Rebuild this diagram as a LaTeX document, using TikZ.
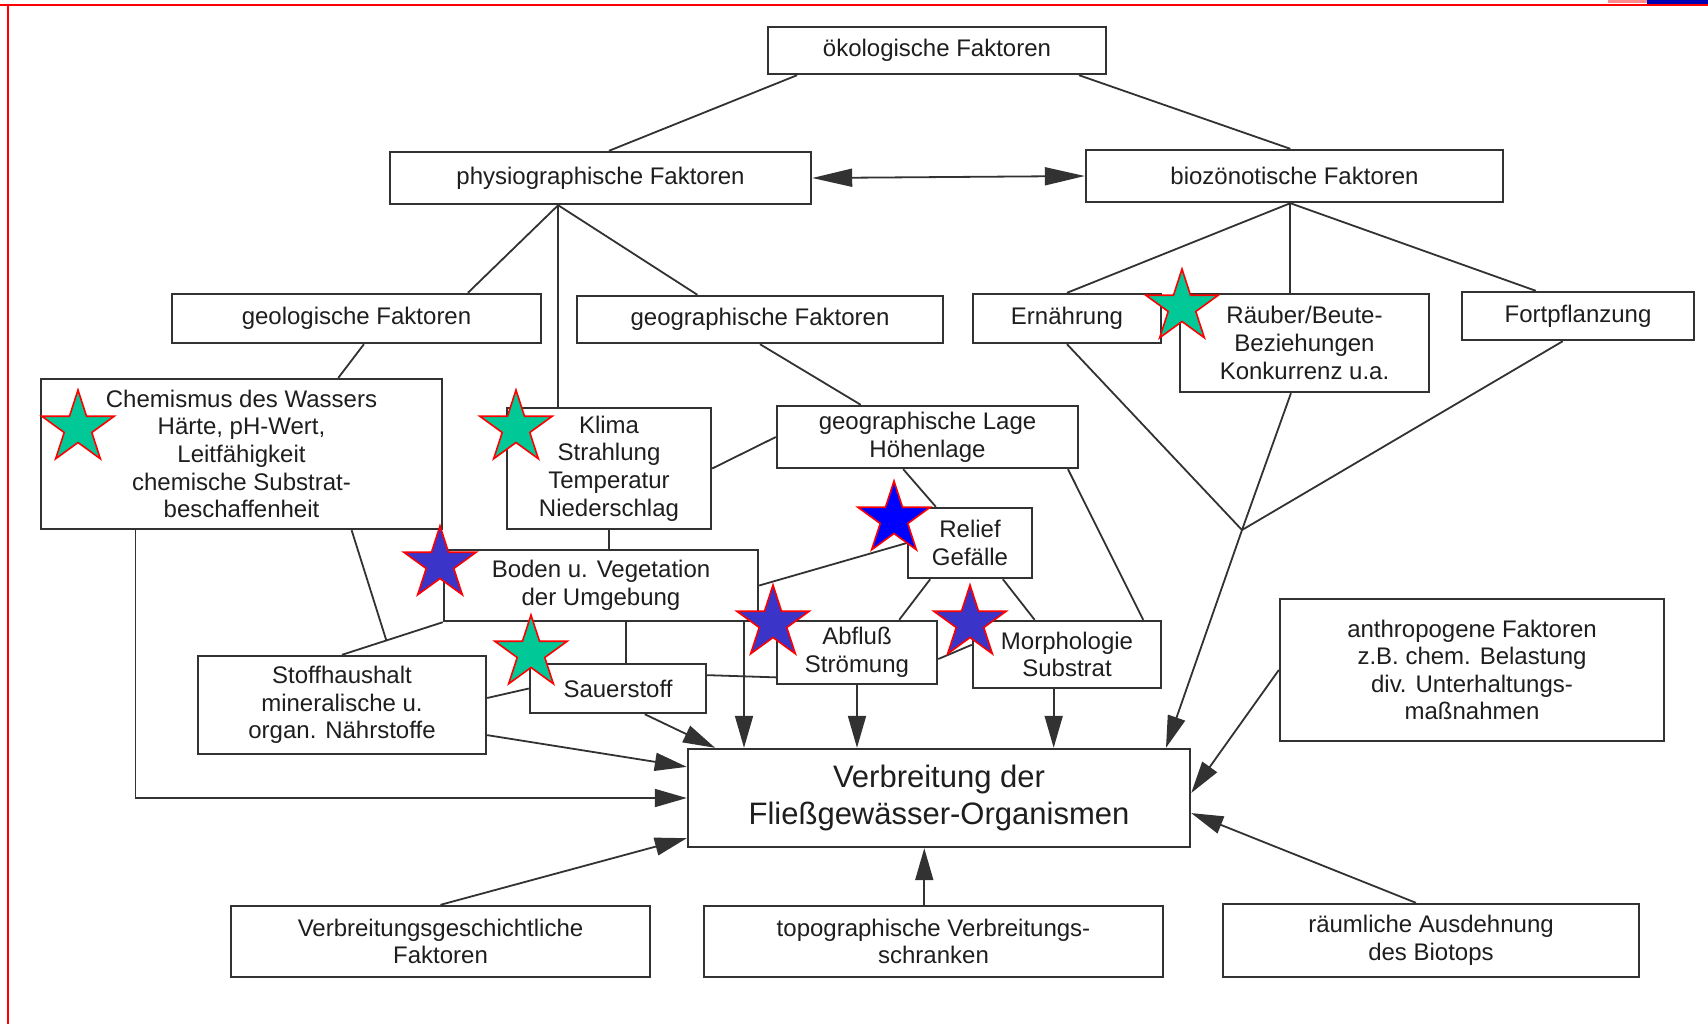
\documentclass[tikz,border=0pt]{standalone}
\usepackage{fontspec}
\setmainfont{Liberation Sans}
\usetikzlibrary{calc,arrows.meta}
\definecolor{gstar}{RGB}{0,200,150}
\definecolor{bstar}{RGB}{58,52,200}
\definecolor{pstar}{RGB}{0,0,255}
\definecolor{ink}{RGB}{30,30,30}
\definecolor{boxline}{RGB}{50,50,50}
\newcommand\starat[3]{\draw[draw=red, line width=0.8pt, fill=#3] plot[samples at={0,...,9}, variable=\k] ({#1+ifthenelse(mod(\k,2)==0,38,14.5)*cos(-90+36*\k)}, {#2+ifthenelse(mod(\k,2)==0,38,14.5)*sin(-90+36*\k)}) -- cycle;}
\begin{document}
\begin{tikzpicture}[x=0.5pt,y=-0.5pt,
 bx/.style={draw=boxline, line width=1.2pt, text=ink, align=center, inner sep=0pt, font=\fontsize{12}{13.8}\selectfont},
 sz/.style 2 args={minimum width=#1*0.5pt, minimum height=#2*0.5pt},
 ln/.style={draw=boxline, line width=0.9pt},
 ar/.style={ln, -{Triangle[length=16pt,width=9pt]}}]
\useasboundingbox (0,0) rectangle (1708,1024);
\fill[white] (0,0) rectangle (1708,1024);
% frame fragments
\fill[red!45] (1608,0) rectangle (1647,3);
\fill[blue!70!black] (1647,0) rectangle (1708,4);
\draw[red, line width=1.3pt] (0,5) -- (1708,5);
\draw[red, line width=0.8pt] (8,5) -- (8,1024);
% boxes
\node[bx, sz={338}{47}] (oek) at (937,50.5) {ökologische Faktoren};
\node[bx, sz={421}{52}] (phys) at (600.5,178) {physiographische Faktoren};
\node[bx, sz={417}{52}] (bio) at (1294.5,176) {biozönotische Faktoren};
\node[bx, sz={369}{49}] (geol) at (356.5,318.5) {geologische Faktoren};
\node[bx, sz={366}{47}] (geogf) at (760,319.5) {geographische Faktoren};
\node[bx, sz={188}{49}] (ern) at (1067,318.5) {Ernährung};
\node[bx, sz={249}{98}] (raub) at (1304.5,343) {Räuber/Beute-\\Beziehungen\\Konkurrenz u.a.};
\node[bx, sz={232}{48}] (fort) at (1578,316) {Fortpflanzung};
\node[bx, sz={401}{150}] (chem) at (241.5,454) {Chemismus des Wassers\\Härte, pH-Wert,\\Leitfähigkeit\\chemische Substrat-\\beschaffenheit};
\node[bx, sz={204}{121}] (klima) at (609,468.5) {Klima\\Strahlung\\Temperatur\\Niederschlag};
\node[bx, sz={301}{62}] (lage) at (927.5,437) {geographische Lage\\Höhenlage};
\node[bx, sz={124}{70}] (relief) at (970,543) {Relief\\Gefälle};
\node[bx, sz={314}{71}] (boden) at (601,585.5) {Boden u. Vegetation\\der Umgebung};
\node[bx, sz={160}{63}] (abfl) at (857,652.5) {Abfluß\\Strömung};
\node[bx, sz={188}{67}] (morph) at (1067,654.5) {Morphologie\\Substrat};
\node[bx, sz={288}{98}] (stoff) at (342,705) {Stoffhaushalt\\mineralische u.\\organ. Nährstoffe};
\node[bx, sz={176}{49}] (sauer) at (618,688.5) {Sauerstoff};
\node[bx, sz={502}{98}, font=\fontsize{15.5}{18.5}\selectfont] (main) at (939,798) {Verbreitung der\\Fließgewässer-Organismen};
\node[bx, sz={384}{142}] (anthro) at (1472,670) {anthropogene Faktoren\\z.B. chem. Belastung\\div. Unterhaltungs-\\maßnahmen};
\node[bx, sz={419}{71}] (vg) at (440.5,941.5) {Verbreitungsgeschichtliche\\Faktoren};
\node[bx, sz={459}{71}] (topo) at (933.5,941.5) {topographische Verbreitungs-\\schranken};
\node[bx, sz={416}{73}] (raum) at (1431,940.5) {räumliche Ausdehnung\\des Biotops};
% connectors
\draw[ln] ($(oek.south west)!0.089!(oek.south east)$) -- ($(phys.north west)!0.52!(phys.north east)$);
\draw[ln] ($(oek.south west)!0.917!(oek.south east)$) -- ($(bio.north west)!0.49!(bio.north east)$);
\draw[ln, {Triangle[length=20pt,width=9pt]}-{Triangle[length=20pt,width=9pt]}] (phys.east) -- (bio.west);
\coordinate (pj) at ($(phys.south west)!0.40!(phys.south east)$);
\draw[ln] (pj) -- ($(geol.north west)!0.80!(geol.north east)$);
\draw[ln] (pj) -- (pj |- klima.north);
\draw[ln] (pj) -- ($(geogf.north west)!0.33!(geogf.north east)$);
\draw[ln] ($(geol.south west)!0.52!(geol.south east)$) -- ($(chem.north west)!0.74!(chem.north east)$);
\draw[ln] (geogf.south) -- ($(lage.north west)!0.28!(lage.north east)$);
\coordinate (bj) at ($(bio.south west)!0.49!(bio.south east)$);
\draw[ln] (bj) -- (ern.north);
\draw[ln] (bj) -- (bj |- raub.north);
\draw[ln] (bj) -- ($(fort.north west)!0.32!(fort.north east)$);
\coordinate (jn) at (1242,530);
\draw[ln] (ern.south) -- (jn);
\draw[ln] ($(raub.south west)!0.446!(raub.south east)$) -- (jn);
\draw[ln] ($(fort.south west)!0.435!(fort.south east)$) -- (jn);
\draw[ar] (jn) -- ($(main.north west)!0.95!(main.north east)$);
\draw[ln] (klima.east) -- (lage.west);
\draw[ln] (klima.south) -- (klima.south |- boden.north);
\draw[ln] ($(lage.south west)!0.42!(lage.south east)$) -- ($(relief.north west)!0.23!(relief.north east)$);
\draw[ln] ($(lage.south west)!0.963!(lage.south east)$) -- ($(morph.north west)!0.9!(morph.north east)$);
\draw[ln] (relief.west) -- (boden.east);
\draw[ln] ($(relief.south west)!0.185!(relief.south east)$) -- ($(abfl.north west)!0.76!(abfl.north east)$);
\draw[ln] ($(relief.south west)!0.76!(relief.south east)$) -- ($(morph.north west)!0.33!(morph.north east)$);
\draw[ln] ($(abfl.north east)!0.6!(abfl.south east)$) -- ($(morph.north west)!0.36!(morph.south west)$);
\draw[ln] ($(sauer.north east)!0.24!(sauer.south east)$) -- ($(abfl.north west)!0.88!(abfl.south west)$);
\coordinate (bs) at ($(boden.south west)!0.58!(boden.south east)$);
\draw[ln] (bs) -- (bs |- sauer.north);
\draw[ln] (boden.south west) -- (stoff.north);
\draw[ln] ($(chem.south west)!0.773!(chem.south east)$) -- ($(boden.south west)!0.56!(stoff.north)$);
\draw[ar] ($(chem.south west)!0.237!(chem.south east)$) |- (main.west);
\draw[ln] ($(stoff.north east)!0.43!(stoff.south east)$) -- (sauer.west);
\draw[ar] ($(stoff.north east)!0.8!(stoff.south east)$) -- ($(main.north west)!0.19!(main.south west)$);
\draw[ar] ($(sauer.south west)!0.65!(sauer.south east)$) -- ($(main.north west)!0.056!(main.north east)$);
\coordinate (bv) at ($(boden.south west)!0.952!(boden.south east)$);
\draw[ar] (bv) -- (bv |- main.north);
\draw[ar] (abfl.south) -- (abfl.south |- main.north);
\coordinate (mv) at ($(morph.south west)!0.43!(morph.south east)$);
\draw[ar] (mv) -- (mv |- main.north);
\draw[ar] (anthro.west) -- ($(main.north east)!0.45!(main.south east)$);
\draw[ar] ($(raum.north west)!0.464!(raum.north east)$) -- ($(main.north east)!0.65!(main.south east)$);
\coordinate (tv) at ($(topo.north west)!0.48!(topo.north east)$);
\draw[ar] (tv) -- (tv |- main.south);
\draw[ar] (vg.north) -- ($(main.north west)!0.9!(main.south west)$);
% stars
\starat{78}{428}{gstar}
\starat{516}{428}{gstar}
\starat{1182}{307}{gstar}
\starat{531}{653}{gstar}
\starat{440}{564}{bstar}
\starat{894}{519}{pstar}
\starat{773}{623}{bstar}
\starat{970}{623}{bstar}
\end{tikzpicture}
\end{document}
